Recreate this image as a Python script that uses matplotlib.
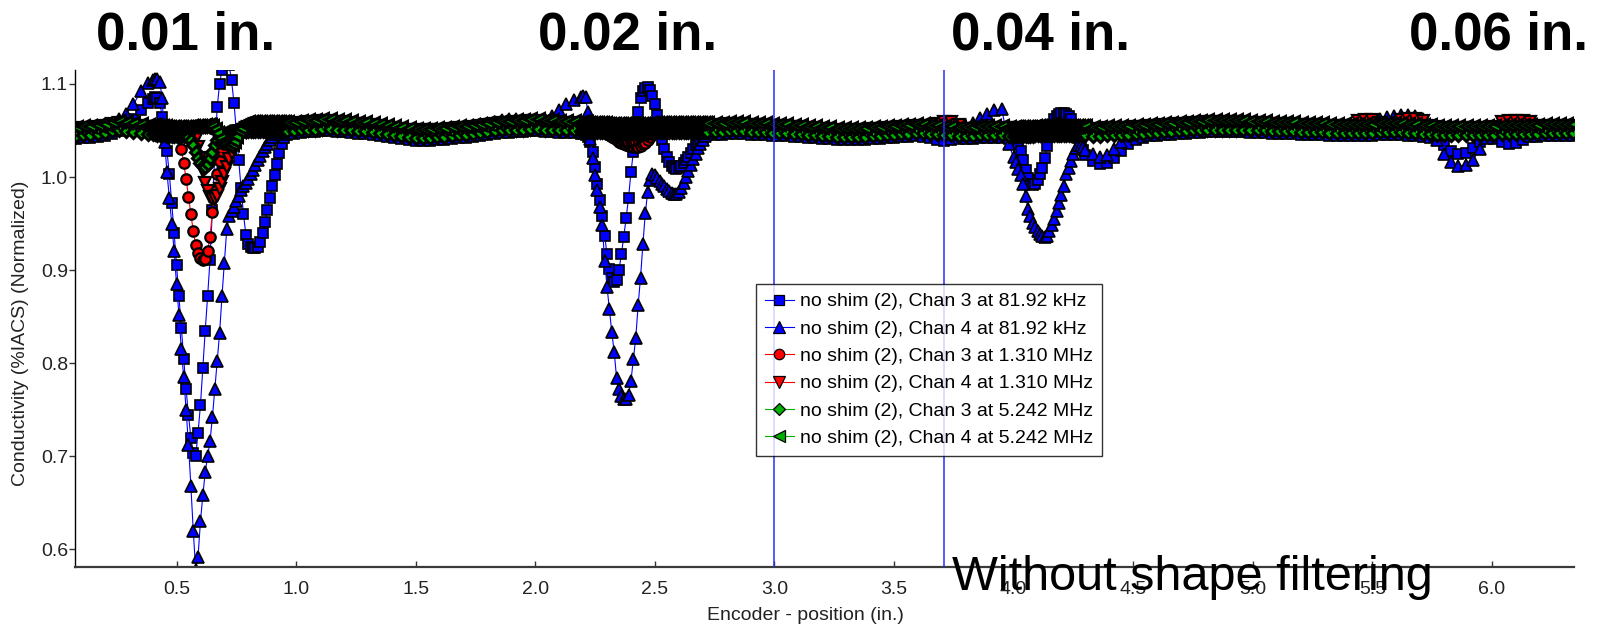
import numpy as np
import matplotlib
matplotlib.use('Agg')
import matplotlib.pyplot as plt

plt.rcParams['font.family'] = ['Liberation Sans', 'DejaVu Sans']

# ---------------- data ----------------
# encoder sample positions (in.): coarse outside the flaws, fine across the flaws
segments = [(0.08, 0.38, 11), (0.40, 0.96, 57), (0.99, 2.19, 41), (2.20, 2.72, 53),
            (2.75, 3.98, 42), (4.00, 4.30, 31), (4.33, 6.34, 68)]
position = np.round(np.concatenate([np.linspace(a, b, n) for a, b, n in segments]), 3)

chan3_81k = [
    1.041, 1.042, 1.042, 1.043, 1.044, 1.046, 1.049, 1.054, 1.062, 1.072, 1.080,
    1.084, 1.086, 1.085, 1.080, 1.065, 1.047, 1.028, 1.003, 0.972, 0.940,
    0.905, 0.872, 0.838, 0.805, 0.772, 0.744, 0.720, 0.704, 0.700, 0.725,
    0.755, 0.795, 0.835, 0.872, 0.911, 0.965, 1.025, 1.075, 1.100, 1.115,
    1.124, 1.126, 1.120, 1.104, 1.080, 1.050, 1.018, 0.988, 0.960, 0.938,
    0.928, 0.925, 0.924, 0.924, 0.925, 0.930, 0.940, 0.952, 0.965, 0.978,
    0.990, 1.002, 1.014, 1.026, 1.036, 1.042, 1.045,
    1.046, 1.047, 1.048, 1.048, 1.049, 1.049, 1.048, 1.048, 1.047, 1.046,
    1.046, 1.045, 1.044, 1.043, 1.042, 1.041, 1.040, 1.039, 1.039, 1.039,
    1.040, 1.040, 1.041, 1.042, 1.042, 1.043, 1.044, 1.045, 1.046, 1.047,
    1.047, 1.048, 1.048, 1.049, 1.049, 1.048, 1.048, 1.047, 1.047, 1.047, 1.046,
    1.046, 1.045, 1.043, 1.038, 1.027, 1.011, 0.993, 0.975, 0.958, 0.937,
    0.917, 0.901, 0.891, 0.887, 0.889, 0.900, 0.917, 0.936, 0.956, 0.978,
    1.005, 1.027, 1.048, 1.070, 1.085, 1.092, 1.096, 1.097, 1.094, 1.087,
    1.078, 1.067, 1.053, 1.040, 1.030, 1.022, 1.016, 1.012, 1.010, 1.009,
    1.010, 1.012, 1.015, 1.018, 1.022, 1.026, 1.030, 1.034, 1.037, 1.040,
    1.042, 1.044, 1.045,
    1.045, 1.045, 1.046, 1.046, 1.046, 1.045, 1.045, 1.045, 1.044, 1.044,
    1.044, 1.043, 1.043, 1.042, 1.042, 1.041, 1.041, 1.040, 1.040, 1.040,
    1.040, 1.040, 1.041, 1.041, 1.042, 1.042, 1.043, 1.043, 1.044, 1.043,
    1.042, 1.040, 1.039, 1.040, 1.041, 1.041, 1.041, 1.042, 1.042, 1.042,
    1.042, 1.041,
    1.041, 1.039, 1.035, 1.028, 1.018, 1.008, 0.999, 0.993, 0.991, 0.992,
    0.997, 1.003, 1.010, 1.020, 1.033, 1.045, 1.055, 1.062, 1.066, 1.068,
    1.069, 1.069, 1.068, 1.066, 1.062, 1.056, 1.049, 1.042, 1.035, 1.029, 1.024,
    1.017, 1.014, 1.015, 1.020, 1.028, 1.035, 1.040, 1.042, 1.044,
    1.044, 1.045, 1.045, 1.046, 1.046, 1.047, 1.047, 1.048, 1.048, 1.048,
    1.048, 1.048, 1.048, 1.047, 1.047, 1.047, 1.046, 1.046, 1.046, 1.046,
    1.045, 1.045, 1.045, 1.045, 1.044, 1.044, 1.044, 1.044, 1.044, 1.044,
    1.044, 1.045, 1.045, 1.045, 1.045, 1.044, 1.044, 1.043, 1.042, 1.040,
    1.034, 1.028, 1.025, 1.026, 1.031, 1.038, 1.042, 1.041, 1.038, 1.036,
    1.037, 1.040, 1.043, 1.043, 1.044, 1.044, 1.044, 1.044, 1.044,
]

chan4_81k = [
    1.052, 1.053, 1.053, 1.054, 1.055, 1.058, 1.062, 1.068, 1.078, 1.092, 1.101,
    1.104, 1.105, 1.105, 1.102, 1.085, 1.038, 1.005, 0.978, 0.950, 0.920,
    0.885, 0.852, 0.815, 0.785, 0.750, 0.712, 0.668, 0.620, 0.578, 0.592,
    0.630, 0.658, 0.683, 0.700, 0.716, 0.742, 0.772, 0.802, 0.832, 0.872,
    0.908, 0.944, 0.958, 0.963, 0.968, 0.974, 0.980, 0.986, 0.990, 0.994,
    0.998, 1.003, 1.008, 1.013, 1.018, 1.023, 1.028, 1.032, 1.036, 1.040,
    1.043, 1.046, 1.049, 1.051, 1.053, 1.055, 1.056,
    1.057, 1.058, 1.059, 1.059, 1.060, 1.060, 1.059, 1.059, 1.058, 1.057,
    1.057, 1.056, 1.055, 1.054, 1.053, 1.052, 1.051, 1.050, 1.050, 1.050,
    1.051, 1.051, 1.052, 1.053, 1.053, 1.054, 1.055, 1.057, 1.059, 1.061,
    1.062, 1.062, 1.061, 1.061, 1.060, 1.062, 1.066, 1.072, 1.078, 1.083, 1.086,
    1.087, 1.086, 1.070, 1.041, 1.020, 1.002, 0.986, 0.968, 0.948, 0.910,
    0.882, 0.858, 0.833, 0.812, 0.784, 0.772, 0.765, 0.762, 0.761, 0.766,
    0.781, 0.804, 0.827, 0.862, 0.892, 0.928, 0.961, 0.984, 0.997, 1.003,
    1.002, 0.999, 0.996, 0.993, 0.990, 0.987, 0.985, 0.983, 0.982, 0.982,
    0.984, 0.988, 0.994, 1.000, 1.007, 1.013, 1.019, 1.025, 1.031, 1.036,
    1.040, 1.044, 1.047,
    1.056, 1.056, 1.057, 1.057, 1.057, 1.056, 1.056, 1.056, 1.055, 1.055,
    1.055, 1.054, 1.054, 1.053, 1.053, 1.052, 1.052, 1.051, 1.051, 1.051,
    1.051, 1.051, 1.052, 1.052, 1.053, 1.053, 1.054, 1.054, 1.055, 1.055,
    1.054, 1.054, 1.053, 1.053, 1.052, 1.054, 1.058, 1.063, 1.068, 1.072,
    1.073, 1.035,
    1.021, 1.016, 1.009, 1.002, 0.992, 0.980, 0.966, 0.958, 0.951, 0.946,
    0.942, 0.939, 0.937, 0.936, 0.937, 0.942, 0.948, 0.955, 0.963, 0.972,
    0.981, 0.990, 1.003, 1.010, 1.017, 1.025, 1.031, 1.034, 1.034, 1.032, 1.029,
    1.025, 1.022, 1.024, 1.030, 1.038, 1.045, 1.050, 1.053, 1.055,
    1.055, 1.056, 1.056, 1.057, 1.057, 1.058, 1.058, 1.059, 1.059, 1.059,
    1.059, 1.059, 1.059, 1.058, 1.058, 1.058, 1.057, 1.057, 1.057, 1.057,
    1.056, 1.056, 1.056, 1.056, 1.055, 1.055, 1.055, 1.056, 1.057, 1.058,
    1.060, 1.062, 1.064, 1.066, 1.067, 1.067, 1.066, 1.062, 1.055, 1.040,
    1.025, 1.016, 1.012, 1.013, 1.018, 1.030, 1.042, 1.048, 1.052, 1.053,
    1.054, 1.054, 1.054, 1.054, 1.055, 1.055, 1.055, 1.055, 1.055,
]

chan3_1310k = [
    1.048, 1.049, 1.049, 1.050, 1.051, 1.053, 1.054, 1.053, 1.052, 1.051, 1.050,
    1.050, 1.050, 1.049, 1.049, 1.049, 1.049, 1.048, 1.048, 1.048, 1.048,
    1.047, 1.043, 1.030, 1.015, 0.998, 0.979, 0.960, 0.942, 0.927, 0.918,
    0.913, 0.911, 0.912, 0.920, 0.936, 0.962, 0.985, 1.003, 1.017, 1.028,
    1.036, 1.042, 1.046, 1.048, 1.050, 1.051, 1.052, 1.052, 1.053, 1.053,
    1.053, 1.053, 1.053, 1.053, 1.053, 1.053, 1.053, 1.053, 1.053, 1.053,
    1.053, 1.053, 1.053, 1.053, 1.053, 1.053, 1.053,
    1.053, 1.054, 1.055, 1.055, 1.056, 1.056, 1.055, 1.055, 1.054, 1.053,
    1.053, 1.052, 1.051, 1.050, 1.049, 1.048, 1.047, 1.046, 1.046, 1.046,
    1.047, 1.047, 1.048, 1.049, 1.049, 1.050, 1.051, 1.052, 1.053, 1.054,
    1.054, 1.055, 1.055, 1.056, 1.056, 1.055, 1.055, 1.054, 1.054, 1.054, 1.053,
    1.053, 1.053, 1.052, 1.052, 1.052, 1.051, 1.051, 1.050, 1.049, 1.048,
    1.046, 1.045, 1.043, 1.042, 1.040, 1.038, 1.037, 1.035, 1.034, 1.033,
    1.033, 1.032, 1.032, 1.032, 1.033, 1.035, 1.037, 1.040, 1.043, 1.046,
    1.048, 1.050, 1.051, 1.052, 1.052, 1.052, 1.052, 1.052, 1.052, 1.052,
    1.052, 1.052, 1.052, 1.052, 1.052, 1.052, 1.052, 1.052, 1.052, 1.052,
    1.052, 1.052, 1.052,
    1.052, 1.052, 1.053, 1.053, 1.053, 1.052, 1.052, 1.052, 1.051, 1.051,
    1.051, 1.050, 1.050, 1.049, 1.049, 1.048, 1.048, 1.047, 1.047, 1.047,
    1.047, 1.047, 1.048, 1.048, 1.049, 1.049, 1.050, 1.050, 1.051, 1.051,
    1.050, 1.050, 1.049, 1.049, 1.048, 1.048, 1.048, 1.049, 1.049, 1.049,
    1.049, 1.048,
    1.048, 1.048, 1.048, 1.048, 1.048, 1.048, 1.048, 1.048, 1.048, 1.048,
    1.048, 1.048, 1.048, 1.048, 1.048, 1.048, 1.048, 1.048, 1.049, 1.049,
    1.049, 1.049, 1.049, 1.049, 1.049, 1.049, 1.049, 1.049, 1.049, 1.049, 1.049,
    1.048, 1.048, 1.049, 1.049, 1.049, 1.049, 1.050, 1.050, 1.051,
    1.051, 1.052, 1.052, 1.053, 1.053, 1.054, 1.054, 1.055, 1.055, 1.055,
    1.055, 1.055, 1.055, 1.054, 1.054, 1.054, 1.053, 1.053, 1.053, 1.053,
    1.052, 1.052, 1.052, 1.052, 1.051, 1.051, 1.051, 1.051, 1.051, 1.051,
    1.051, 1.052, 1.052, 1.052, 1.052, 1.051, 1.051, 1.050, 1.050, 1.049,
    1.049, 1.049, 1.049, 1.049, 1.049, 1.049, 1.049, 1.049, 1.050, 1.050,
    1.050, 1.050, 1.050, 1.050, 1.051, 1.051, 1.051, 1.051, 1.051,
]

chan4_1310k = [
    1.052, 1.053, 1.053, 1.054, 1.055, 1.057, 1.058, 1.057, 1.056, 1.055, 1.054,
    1.054, 1.054, 1.053, 1.053, 1.053, 1.053, 1.052, 1.052, 1.052, 1.052,
    1.052, 1.052, 1.052, 1.052, 1.052, 1.051, 1.050, 1.047, 1.041, 1.032,
    1.020, 1.006, 0.994, 0.985, 0.979, 0.976, 0.976, 0.980, 0.987, 0.995,
    1.003, 1.011, 1.019, 1.026, 1.033, 1.039, 1.044, 1.048, 1.051, 1.053,
    1.054, 1.055, 1.056, 1.057, 1.057, 1.057, 1.057, 1.057, 1.057, 1.057,
    1.057, 1.057, 1.057, 1.057, 1.057, 1.057, 1.057,
    1.057, 1.058, 1.059, 1.059, 1.060, 1.060, 1.059, 1.059, 1.058, 1.057,
    1.057, 1.056, 1.055, 1.054, 1.053, 1.052, 1.051, 1.050, 1.050, 1.050,
    1.051, 1.051, 1.052, 1.053, 1.053, 1.054, 1.055, 1.056, 1.057, 1.058,
    1.058, 1.059, 1.059, 1.060, 1.060, 1.059, 1.059, 1.058, 1.058, 1.058, 1.057,
    1.057, 1.057, 1.056, 1.056, 1.056, 1.055, 1.055, 1.054, 1.053, 1.052,
    1.051, 1.049, 1.047, 1.045, 1.043, 1.041, 1.040, 1.039, 1.038, 1.038,
    1.038, 1.039, 1.040, 1.042, 1.044, 1.046, 1.048, 1.050, 1.052, 1.053,
    1.054, 1.055, 1.056, 1.056, 1.056, 1.056, 1.056, 1.056, 1.056, 1.056,
    1.056, 1.056, 1.056, 1.056, 1.056, 1.056, 1.056, 1.056, 1.056, 1.056,
    1.056, 1.056, 1.056,
    1.056, 1.056, 1.057, 1.057, 1.057, 1.056, 1.056, 1.056, 1.055, 1.055,
    1.055, 1.054, 1.054, 1.053, 1.053, 1.052, 1.052, 1.051, 1.051, 1.051,
    1.051, 1.051, 1.052, 1.052, 1.053, 1.053, 1.054, 1.054, 1.055, 1.055,
    1.055, 1.057, 1.059, 1.059, 1.056, 1.052, 1.052, 1.053, 1.053, 1.053,
    1.053, 1.052,
    1.052, 1.053, 1.053, 1.052, 1.052, 1.051, 1.051, 1.051, 1.052, 1.052,
    1.053, 1.053, 1.053, 1.052, 1.052, 1.051, 1.051, 1.052, 1.052, 1.053,
    1.053, 1.053, 1.052, 1.052, 1.052, 1.051, 1.051, 1.052, 1.052, 1.052, 1.052,
    1.052, 1.052, 1.053, 1.053, 1.053, 1.053, 1.054, 1.054, 1.055,
    1.055, 1.056, 1.056, 1.057, 1.057, 1.058, 1.058, 1.059, 1.059, 1.059,
    1.059, 1.059, 1.059, 1.058, 1.058, 1.058, 1.057, 1.057, 1.057, 1.057,
    1.056, 1.056, 1.056, 1.056, 1.055, 1.055, 1.055, 1.055, 1.060, 1.061,
    1.061, 1.058, 1.056, 1.056, 1.061, 1.062, 1.062, 1.060, 1.055, 1.054,
    1.053, 1.053, 1.053, 1.053, 1.053, 1.053, 1.053, 1.054, 1.059, 1.060,
    1.060, 1.060, 1.059, 1.055, 1.055, 1.055, 1.055, 1.055, 1.055,
]

chan3_5242k = [
    1.044, 1.045, 1.045, 1.046, 1.047, 1.049, 1.050, 1.049, 1.048, 1.047, 1.046,
    1.046, 1.046, 1.045, 1.045, 1.045, 1.045, 1.044, 1.044, 1.044, 1.044,
    1.044, 1.044, 1.044, 1.044, 1.044, 1.043, 1.040, 1.034, 1.027, 1.020,
    1.015, 1.012, 1.011, 1.014, 1.020, 1.027, 1.034, 1.040, 1.044, 1.046,
    1.047, 1.047, 1.048, 1.048, 1.048, 1.048, 1.048, 1.048, 1.049, 1.049,
    1.049, 1.049, 1.049, 1.049, 1.049, 1.049, 1.049, 1.049, 1.049, 1.049,
    1.049, 1.049, 1.049, 1.049, 1.049, 1.049, 1.049,
    1.049, 1.050, 1.051, 1.051, 1.052, 1.052, 1.051, 1.051, 1.050, 1.049,
    1.049, 1.048, 1.047, 1.046, 1.045, 1.044, 1.043, 1.042, 1.042, 1.042,
    1.043, 1.043, 1.044, 1.045, 1.045, 1.046, 1.047, 1.048, 1.049, 1.050,
    1.050, 1.051, 1.051, 1.052, 1.052, 1.051, 1.051, 1.050, 1.050, 1.050, 1.049,
    1.049, 1.049, 1.048, 1.048, 1.048, 1.048, 1.048, 1.048, 1.048, 1.048,
    1.047, 1.047, 1.047, 1.047, 1.047, 1.047, 1.047, 1.047, 1.047, 1.047,
    1.047, 1.047, 1.047, 1.047, 1.047, 1.047, 1.047, 1.047, 1.048, 1.048,
    1.048, 1.048, 1.048, 1.048, 1.048, 1.048, 1.048, 1.048, 1.048, 1.048,
    1.048, 1.048, 1.048, 1.048, 1.048, 1.048, 1.048, 1.048, 1.048, 1.048,
    1.048, 1.048, 1.048,
    1.048, 1.048, 1.049, 1.049, 1.049, 1.048, 1.048, 1.048, 1.047, 1.047,
    1.047, 1.046, 1.046, 1.045, 1.045, 1.044, 1.044, 1.043, 1.043, 1.043,
    1.043, 1.043, 1.044, 1.044, 1.045, 1.045, 1.046, 1.046, 1.047, 1.047,
    1.046, 1.046, 1.045, 1.045, 1.044, 1.044, 1.044, 1.045, 1.045, 1.045,
    1.045, 1.044,
    1.044, 1.044, 1.044, 1.044, 1.044, 1.044, 1.044, 1.044, 1.044, 1.045,
    1.045, 1.045, 1.045, 1.045, 1.045, 1.045, 1.045, 1.045, 1.045, 1.045,
    1.045, 1.045, 1.045, 1.045, 1.045, 1.045, 1.045, 1.045, 1.045, 1.045, 1.045,
    1.044, 1.044, 1.045, 1.045, 1.045, 1.045, 1.046, 1.046, 1.047,
    1.047, 1.048, 1.048, 1.049, 1.049, 1.050, 1.050, 1.051, 1.051, 1.051,
    1.051, 1.051, 1.051, 1.050, 1.050, 1.050, 1.049, 1.049, 1.049, 1.049,
    1.048, 1.048, 1.048, 1.048, 1.047, 1.047, 1.047, 1.047, 1.047, 1.047,
    1.047, 1.048, 1.048, 1.048, 1.048, 1.047, 1.047, 1.046, 1.046, 1.045,
    1.045, 1.045, 1.045, 1.045, 1.045, 1.045, 1.045, 1.045, 1.046, 1.046,
    1.046, 1.046, 1.046, 1.046, 1.047, 1.047, 1.047, 1.047, 1.047,
]

chan4_5242k = [
    1.054, 1.055, 1.055, 1.056, 1.057, 1.059, 1.060, 1.059, 1.058, 1.057, 1.056,
    1.056, 1.056, 1.055, 1.055, 1.055, 1.055, 1.054, 1.054, 1.054, 1.054,
    1.054, 1.054, 1.054, 1.054, 1.054, 1.054, 1.055, 1.055, 1.055, 1.055,
    1.055, 1.055, 1.056, 1.056, 1.056, 1.055, 1.052, 1.047, 1.042, 1.038,
    1.035, 1.033, 1.033, 1.035, 1.039, 1.044, 1.049, 1.053, 1.057, 1.058,
    1.059, 1.059, 1.059, 1.059, 1.059, 1.059, 1.059, 1.059, 1.059, 1.059,
    1.059, 1.059, 1.059, 1.059, 1.059, 1.059, 1.059,
    1.059, 1.060, 1.061, 1.061, 1.062, 1.062, 1.061, 1.061, 1.060, 1.059,
    1.059, 1.058, 1.057, 1.056, 1.055, 1.054, 1.053, 1.052, 1.052, 1.052,
    1.053, 1.053, 1.054, 1.055, 1.055, 1.056, 1.057, 1.058, 1.059, 1.060,
    1.060, 1.061, 1.061, 1.062, 1.062, 1.061, 1.061, 1.060, 1.060, 1.060, 1.059,
    1.059, 1.059, 1.058, 1.058, 1.058, 1.058, 1.058, 1.058, 1.058, 1.058,
    1.057, 1.057, 1.057, 1.057, 1.057, 1.057, 1.057, 1.057, 1.057, 1.057,
    1.057, 1.057, 1.057, 1.057, 1.057, 1.057, 1.057, 1.057, 1.058, 1.058,
    1.058, 1.058, 1.058, 1.058, 1.058, 1.058, 1.058, 1.058, 1.058, 1.058,
    1.058, 1.058, 1.058, 1.058, 1.058, 1.058, 1.058, 1.058, 1.058, 1.058,
    1.058, 1.058, 1.058,
    1.058, 1.058, 1.059, 1.059, 1.059, 1.058, 1.058, 1.058, 1.057, 1.057,
    1.057, 1.056, 1.056, 1.055, 1.055, 1.054, 1.054, 1.053, 1.053, 1.053,
    1.053, 1.053, 1.054, 1.054, 1.055, 1.055, 1.056, 1.056, 1.057, 1.057,
    1.056, 1.056, 1.055, 1.055, 1.054, 1.054, 1.054, 1.055, 1.055, 1.055,
    1.055, 1.054,
    1.054, 1.054, 1.054, 1.054, 1.054, 1.054, 1.054, 1.054, 1.054, 1.055,
    1.055, 1.055, 1.055, 1.055, 1.055, 1.055, 1.055, 1.055, 1.055, 1.055,
    1.055, 1.055, 1.055, 1.055, 1.055, 1.055, 1.055, 1.055, 1.055, 1.055, 1.055,
    1.054, 1.054, 1.055, 1.055, 1.055, 1.055, 1.056, 1.056, 1.057,
    1.057, 1.058, 1.058, 1.059, 1.059, 1.060, 1.060, 1.061, 1.061, 1.061,
    1.061, 1.061, 1.061, 1.060, 1.060, 1.060, 1.059, 1.059, 1.059, 1.059,
    1.058, 1.058, 1.058, 1.058, 1.057, 1.057, 1.057, 1.057, 1.057, 1.057,
    1.057, 1.058, 1.058, 1.058, 1.058, 1.057, 1.057, 1.056, 1.056, 1.055,
    1.055, 1.055, 1.055, 1.055, 1.055, 1.055, 1.055, 1.055, 1.056, 1.056,
    1.056, 1.056, 1.056, 1.056, 1.057, 1.057, 1.057, 1.057, 1.057,
]

series_labels = [
    'no shim (2), Chan 3 at 81.92 kHz',
    'no shim (2), Chan 4 at 81.92 kHz',
    'no shim (2), Chan 3 at 1.310 MHz',
    'no shim (2), Chan 4 at 1.310 MHz',
    'no shim (2), Chan 3 at 5.242 MHz',
    'no shim (2), Chan 4 at 5.242 MHz',
]
flaw_labels = ['0.01 in.', '0.02 in.', '0.04 in.', '0.06 in.']
x_ticks = [0.5, 1.0, 1.5, 2.0, 2.5, 3.0, 3.5, 4.0, 4.5, 5.0, 5.5, 6.0]
y_ticks = [0.6, 0.7, 0.8, 0.9, 1.0, 1.1]
cursor_positions = [3.0, 3.708]

all_series = [chan3_81k, chan4_81k, chan3_1310k, chan4_1310k, chan3_5242k, chan4_5242k]
bad = [(lab, len(s)) for lab, s in zip(series_labels, all_series) if len(s) != len(position)]
if bad:
    raise SystemExit(f'length mismatch {len(position)}: {bad}')

# ---------------- figure ----------------
W, H = 1608, 629
fig = plt.figure(figsize=(W / 100, H / 100), dpi=100)
ax_l, ax_r, ax_t, ax_b = 75, 1574, 70, 567
ax = fig.add_axes([ax_l / W, 1 - ax_b / H, (ax_r - ax_l) / W, (ax_b - ax_t) / H])

# marker, colour, size, edge width
styles = [
    ('s', '#0000ff', 7.5, 1.2),
    ('^', '#0000ff', 9.0, 1.2),
    ('o', '#ff0000', 7.5, 1.6),
    ('v', '#ff0000', 9.0, 1.6),
    ('D', '#00b000', 6.5, 2.2),
    ('<', '#00b000', 9.0, 2.2),
]
for y, lab, (mk, col, ms, ew) in zip(all_series, series_labels, styles):
    ax.plot(position, y, color=col, lw=0.8, marker=mk, ms=ms, mfc=col,
            mec='black', mew=ew, label=lab)

for cx in cursor_positions:
    ax.axvline(cx, color='#2a2aff', lw=1.1, zorder=10)

ax.set_xlim(0.0755, 6.343)
ax.set_ylim(0.581, 1.115)
ax.set_xticks(x_ticks)
ax.set_xticklabels([f'{t:.1f}' for t in x_ticks])
ax.set_yticks(y_ticks)
ax.set_yticklabels([f'{t:.1f}' for t in y_ticks])

for s in ['top', 'right']:
    ax.spines[s].set_visible(False)
ax.spines['left'].set_linewidth(1.0)
ax.spines['left'].set_color('black')
ax.spines['bottom'].set_linewidth(1.6)
ax.spines['bottom'].set_color('#3a3a3a')

ax.tick_params(axis='x', direction='in', length=4, width=1, colors='#333333',
               labelsize=14, pad=10, labelcolor='#222222')
ax.tick_params(axis='y', direction='out', length=4, width=1, colors='#333333',
               labelsize=14, pad=1, labelcolor='#222222')

ax.set_xlabel('Encoder - position (in.)', fontsize=14, color='#222222')
ax.xaxis.set_label_coords((805 - ax_l) / (ax_r - ax_l), (ax_b - 616) / (ax_b - ax_t))
ax.xaxis.label.set_va('center')
ax.set_ylabel('Conductivity (%IACS) (Normalized)', fontsize=14, color='#222222')
ax.yaxis.set_label_coords((20.5 - ax_l) / (ax_r - ax_l), (ax_b - 333.5) / (ax_b - ax_t))
ax.yaxis.label.set_va('center')

leg = ax.legend(loc='upper left', bbox_to_anchor=((756 - ax_l) / (ax_r - ax_l), (ax_b - 284) / (ax_b - ax_t)),
                borderaxespad=0, fontsize=14, frameon=True, fancybox=False, shadow=False,
                labelspacing=0.5, handlelength=1.5, handletextpad=0.3, borderpad=0.45)
leg.get_frame().set_edgecolor('black')
leg.get_frame().set_linewidth(1.0)
leg.set_zorder(20)
for h in leg.legend_handles:
    h.set_markeredgewidth(0.9)

flaw_x = [186, 628, 1041, 1499]
for fx, txt in zip(flaw_x, flaw_labels):
    fig.text(fx / W, 1 - 49 / H, txt, ha='center', va='baseline', fontsize=38,
             fontweight='bold', color='black')

fig.text(952 / W, 1 - 590 / H, 'Without shape filtering', ha='left', va='baseline',
         fontsize=35, color='black', zorder=30)

fig.savefig('out.png', dpi=100)
